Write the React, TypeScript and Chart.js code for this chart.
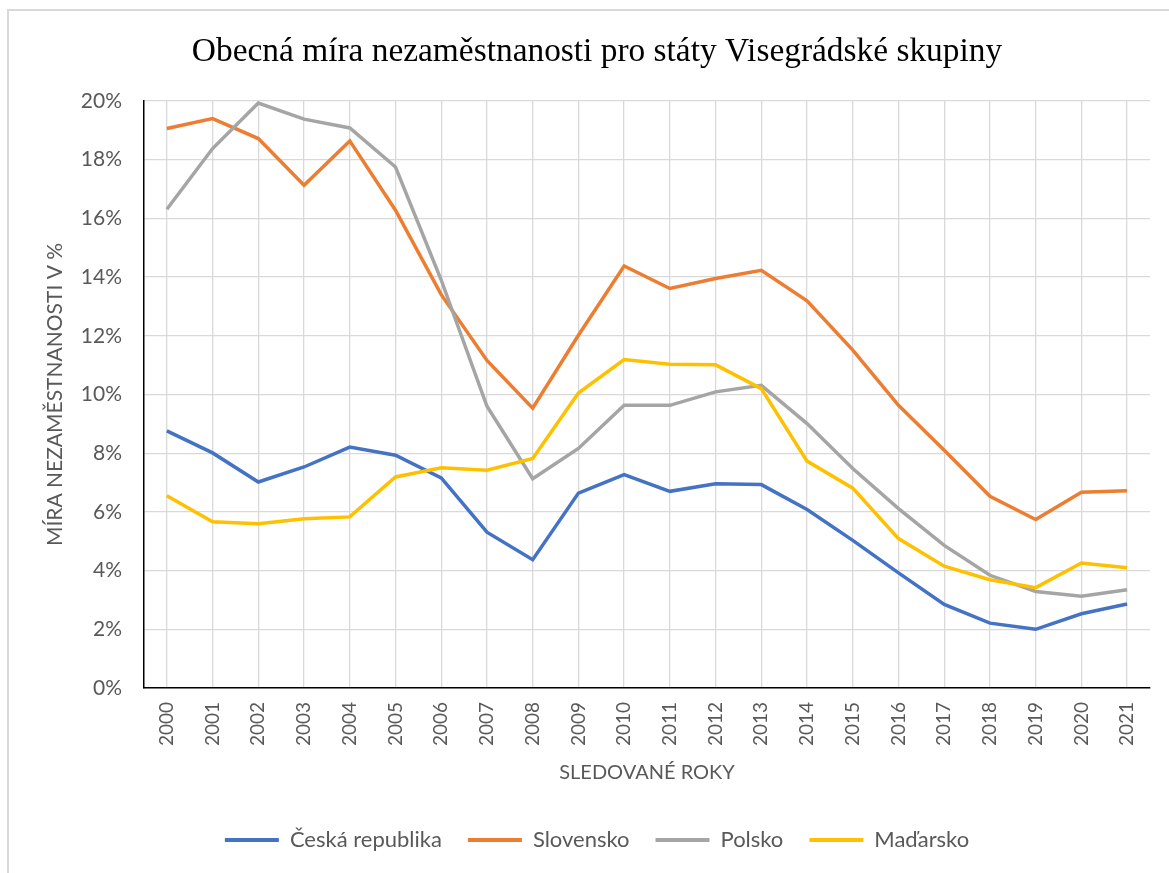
import React, { useEffect, useRef } from "react";
import { Chart, registerables } from "chart.js";

Chart.register(...registerables);

const years = [
  "2000", "2001", "2002", "2003", "2004", "2005", "2006", "2007", "2008", "2009", "2010",
  "2011", "2012", "2013", "2014", "2015", "2016", "2017", "2018", "2019", "2020", "2021",
];
const ceskaRepublika = [8.76, 8.01, 7.02, 7.53, 8.21, 7.93, 7.16, 5.31, 4.37, 6.64, 7.27, 6.7, 6.96, 6.93, 6.08, 5.03, 3.92, 2.85, 2.21, 2.0, 2.53, 2.86];
const slovensko = [19.06, 19.4, 18.72, 17.13, 18.64, 16.28, 13.4, 11.16, 9.53, 12.02, 14.38, 13.61, 13.95, 14.23, 13.19, 11.51, 9.63, 8.1, 6.53, 5.74, 6.67, 6.72];
const polsko = [16.31, 18.38, 19.93, 19.38, 19.08, 17.75, 13.9, 9.6, 7.13, 8.16, 9.63, 9.63, 10.09, 10.31, 9.01, 7.48, 6.11, 4.86, 3.84, 3.29, 3.13, 3.35];
const madarsko = [6.55, 5.66, 5.6, 5.77, 5.83, 7.19, 7.5, 7.42, 7.82, 10.05, 11.19, 11.03, 11.01, 10.2, 7.73, 6.81, 5.09, 4.15, 3.69, 3.42, 4.26, 4.1];
const yTickMax = 20;
const yTickStep = 2;

const seriesNames = ["Česká republika", "Slovensko", "Polsko", "Maďarsko"];
const seriesColors = ["#4472C4", "#ED7D31", "#A5A5A5", "#FFC000"];

const W = 1169;
const H = 873;
const SANS = "Lato, 'Open Sans', 'Liberation Sans', sans-serif";

const legendHeightPlugin = {
  id: "legendHeight",
  beforeLayout(chart: any) {
    const lg = chart.legend;
    if (lg && !lg._fixedFit) {
      const orig = lg.fit.bind(lg);
      lg.fit = function () {
        orig();
        this.height = 70;
      };
      lg._fixedFit = true;
    }
  },
};

export default function App() {
  const canvasRef = useRef<HTMLCanvasElement | null>(null);

  useEffect(() => {
    if (!canvasRef.current) return;
    const values = [ceskaRepublika, slovensko, polsko, madarsko];
    const chart = new Chart(canvasRef.current, {
      type: "line",
      data: {
        labels: years,
        datasets: values.map((v, i) => ({
          label: seriesNames[i],
          data: v,
          borderColor: seriesColors[i],
          backgroundColor: seriesColors[i],
          borderWidth: 3.5,
          pointRadius: 0,
          tension: 0,
          fill: false,
          order: 4 - i,
        })),
      },
      plugins: [legendHeightPlugin],
      options: {
        responsive: false,
        animation: false,
        devicePixelRatio: 1,
        layout: { padding: { left: 44, right: 19, top: 0, bottom: 0 } },
        plugins: {
          tooltip: { enabled: false },
          title: {
            display: true,
            text: "Obecná míra nezaměstnanosti pro státy Visegrádské skupiny",
            color: "#000000",
            font: { family: "'Liberation Serif', 'Times New Roman', serif", size: 33.4, weight: "normal", lineHeight: 1.2 },
            padding: { top: 32, bottom: 28.9 },
          },
          legend: {
            position: "bottom",
            labels: {
              boxWidth: 54,
              boxHeight: 4,
              padding: 26,
              color: "#595959",
              font: { family: SANS, size: 22 },
              generateLabels: (c: any) =>
                c.data.datasets.map((ds: any, i: number) => ({
                  text: ds.label,
                  fillStyle: ds.borderColor,
                  strokeStyle: ds.borderColor,
                  lineWidth: 0,
                  hidden: false,
                  datasetIndex: i,
                  fontColor: "#595959",
                })),
            },
          },
        },
        scales: {
          x: {
            type: "category",
            offset: true,
            grid: { color: "#d9d9d9", lineWidth: 1.3, drawTicks: false, offset: false },
            border: { color: "#000000", width: 1.5 },
            ticks: {
              color: "#595959",
              font: { family: SANS, size: 19 },
              maxRotation: 90,
              minRotation: 90,
              padding: 14,
              autoSkip: false,
            },
            title: {
              display: true,
              text: "SLEDOVANÉ ROKY",
              color: "#595959",
              font: { family: SANS, size: 20, lineHeight: 1.2 },
              padding: { top: 0, bottom: 18 },
            },
            afterFit: (scale: any) => {
              scale.height = 115;
            },
          },
          y: {
            min: 0,
            max: yTickMax,
            grid: { color: "#d9d9d9", lineWidth: 1.3, drawTicks: false },
            border: { color: "#000000", width: 1.5 },
            ticks: {
              stepSize: yTickStep,
              color: "#595959",
              font: { family: SANS, size: 21 },
              padding: 22,
              callback: (v: any) => `${v}%`,
            },
            title: {
              display: true,
              text: "MÍRA NEZAMĚSTNANOSTI V %",
              color: "#595959",
              font: { family: SANS, size: 21, lineHeight: 1.2 },
              padding: { top: -1.6, bottom: 0 },
            },
            afterFit: (scale: any) => {
              scale.width = 100;
            },
          },
        },
      },
    });
    return () => chart.destroy();
  }, []);

  return (
    <div style={{ position: "fixed", left: 0, top: 0, width: W, height: H, overflow: "hidden", background: "#ffffff" }}>
      <div
        style={{
          position: "absolute",
          left: 7,
          top: 9,
          width: W + 50,
          height: H + 50,
          borderLeft: "2px solid #d9d9d9",
          borderTop: "2px solid #d9d9d9",
        }}
      />
      <canvas ref={canvasRef} width={W} height={H} style={{ position: "absolute", left: 0, top: 0, width: W, height: H }} />
    </div>
  );
}
